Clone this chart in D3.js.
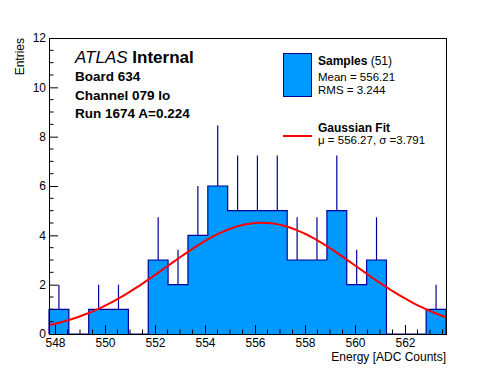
<!DOCTYPE html>
<html>
<head>
<meta charset="utf-8">
<script src="https://cdn.jsdelivr.net/npm/d3@7"></script>
<style>
  body { margin: 0; background: #fff; }
  svg { display: block; font-family: "Liberation Sans", Arial, Helvetica, sans-serif; }
</style>
</head>
<body>
<svg id="chart" width="496" height="372"></svg>
<script>
// histogram definition
const xRange = [547.76, 563.64];
const counts = [1, 0, 1, 1, 0, 3, 2, 4, 6, 5, 5, 5, 3, 3, 5, 2, 3, 0, 0, 1];
const yRange = [0, 12];

// gaussian fit parameters (constant read from the peak)
const fitMu = 556.27;
const fitSigma = 3.791;
const fitConst = 4.51;

const xTicks = [548, 550, 552, 554, 556, 558, 560, 562];
const yTicks = [0, 2, 4, 6, 8, 10, 12];

const titleLines = ['Board 634', 'Channel 079 lo', 'Run 1674 A=0.224'];
const statLines = ['Mean = 556.21', 'RMS = 3.244'];
const fitLine = 'μ = 556.27, σ =3.791';

const frame = { left: 49, right: 446, top: 38, bottom: 334 };
const fillColor = '#0099ff';
const lineColor = '#000099';

const svg = d3.select('#chart');

const x = d3.scaleLinear().domain(xRange).range([frame.left, frame.right]);
const y = d3.scaleLinear().domain(yRange).range([frame.bottom, frame.top]);

const binW = (xRange[1] - xRange[0]) / counts.length;
const bins = counts.map((c, i) => ({ x0: xRange[0] + i * binW, x1: xRange[0] + (i + 1) * binW, n: c }));

// error bars (drawn first, the fill hides the lower half)
svg.append('g').selectAll('line')
  .data(bins.filter(d => d.n > 0))
  .join('line')
    .attr('x1', d => x((d.x0 + d.x1) / 2))
    .attr('x2', d => x((d.x0 + d.x1) / 2))
    .attr('y1', d => y(Math.max(0, d.n - Math.sqrt(d.n))))
    .attr('y2', d => y(d.n + Math.sqrt(d.n)))
    .attr('stroke', lineColor)
    .attr('stroke-width', 1.2);

// filled bars
svg.append('g').selectAll('rect')
  .data(bins.filter(d => d.n > 0))
  .join('rect')
    .attr('x', d => x(d.x0))
    .attr('width', d => x(d.x1) - x(d.x0))
    .attr('y', d => y(d.n))
    .attr('height', d => y(0) - y(d.n))
    .attr('fill', fillColor)
    .attr('shape-rendering', 'crispEdges');

// step outline
const step = [[bins[0].x0, 0]];
bins.forEach(d => { step.push([d.x0, d.n]); step.push([d.x1, d.n]); });
step.push([bins[bins.length - 1].x1, 0]);
svg.append('path')
  .attr('d', d3.line().x(d => x(d[0])).y(d => y(d[1]))(step))
  .attr('fill', 'none')
  .attr('stroke', lineColor)
  .attr('stroke-width', 1.2);

// gaussian fit curve
const fitPts = d3.range(0, 101).map(i => {
  const v = xRange[0] + i * (xRange[1] - xRange[0]) / 100;
  return [v, fitConst * Math.exp(-0.5 * Math.pow((v - fitMu) / fitSigma, 2))];
});
svg.append('path')
  .attr('d', d3.line().x(d => x(d[0])).y(d => y(d[1]))(fitPts))
  .attr('fill', 'none')
  .attr('stroke', '#ff0000')
  .attr('stroke-width', 2);

// frame
svg.append('rect')
  .attr('x', frame.left).attr('y', frame.top)
  .attr('width', frame.right - frame.left).attr('height', frame.bottom - frame.top)
  .attr('fill', 'none').attr('stroke', '#000').attr('stroke-width', 1)
  .attr('shape-rendering', 'crispEdges');

// axes: ticks point into the frame, ROOT style
const xAxis = d3.axisBottom(x).tickValues(xTicks).tickSize(-9).tickPadding(4).tickFormat(d3.format('d'));
const yAxis = d3.axisLeft(y).tickValues(yTicks).tickSize(-9).tickPadding(3).tickFormat(d3.format('d'));

const gx = svg.append('g').attr('transform', `translate(0,${frame.bottom})`).call(xAxis);
const gy = svg.append('g').attr('transform', `translate(${frame.left},0)`).call(yAxis);

// minor ticks
gx.selectAll('.minor').data(d3.range(548, xRange[1], 0.5).filter(v => v % 2 !== 0))
  .join('line').attr('class', 'minor')
  .attr('x1', d => x(d)).attr('x2', d => x(d)).attr('y1', 0).attr('y2', -4.5).attr('stroke', '#000');
gy.selectAll('.minor').data(d3.range(0, 12, 0.5).filter(v => v % 2 !== 0))
  .join('line').attr('class', 'minor')
  .attr('y1', d => y(d)).attr('y2', d => y(d)).attr('x1', 0).attr('x2', 4.5).attr('stroke', '#000');

[gx, gy].forEach(g => {
  g.select('.domain').remove();
  g.selectAll('text').attr('font-size', 12).attr('fill', '#000').attr('font-family', '"Liberation Sans", Arial, sans-serif');
});

// axis titles
svg.append('text')
  .attr('x', frame.right).attr('y', 361)
  .attr('text-anchor', 'end').attr('font-size', 12)
  .text('Energy [ADC Counts]');
svg.append('text')
  .attr('transform', `translate(24,${frame.top}) rotate(-90)`)
  .attr('text-anchor', 'end').attr('font-size', 12)
  .text('Entries');

// ATLAS label block
const atlas = svg.append('text').attr('x', 75).attr('y', 63).attr('font-size', 17);
atlas.append('tspan').attr('font-style', 'italic').text('ATLAS ');
atlas.append('tspan').attr('font-weight', 'bold').text('Internal');
svg.append('g').selectAll('text')
  .data(titleLines)
  .join('text')
    .attr('x', 75)
    .attr('y', (d, i) => 81 + i * 18.5)
    .attr('font-size', 13.5)
    .attr('font-weight', 'bold')
    .text(d => d);

// legend
svg.append('rect')
  .attr('x', 283.5).attr('y', 53.5).attr('width', 28).attr('height', 43)
  .attr('fill', fillColor).attr('stroke', lineColor).attr('stroke-width', 1);
const sTitle = svg.append('text').attr('x', 318).attr('y', 65).attr('font-size', 12);
sTitle.append('tspan').attr('font-weight', 'bold').text('Samples');
sTitle.append('tspan').text(' (51)');
svg.append('g').selectAll('text')
  .data(statLines)
  .join('text')
    .attr('x', 318)
    .attr('y', (d, i) => 81 + i * 12.5)
    .attr('font-size', 11.5)
    .text(d => d);

svg.append('line')
  .attr('x1', 283).attr('x2', 312).attr('y1', 136).attr('y2', 136)
  .attr('stroke', '#ff0000').attr('stroke-width', 2);
svg.append('text').attr('x', 318).attr('y', 132).attr('font-size', 12).attr('font-weight', 'bold').text('Gaussian Fit');
svg.append('text').attr('x', 318).attr('y', 143.5).attr('font-size', 11.5).text(fitLine);
</script>
</body>
</html>
